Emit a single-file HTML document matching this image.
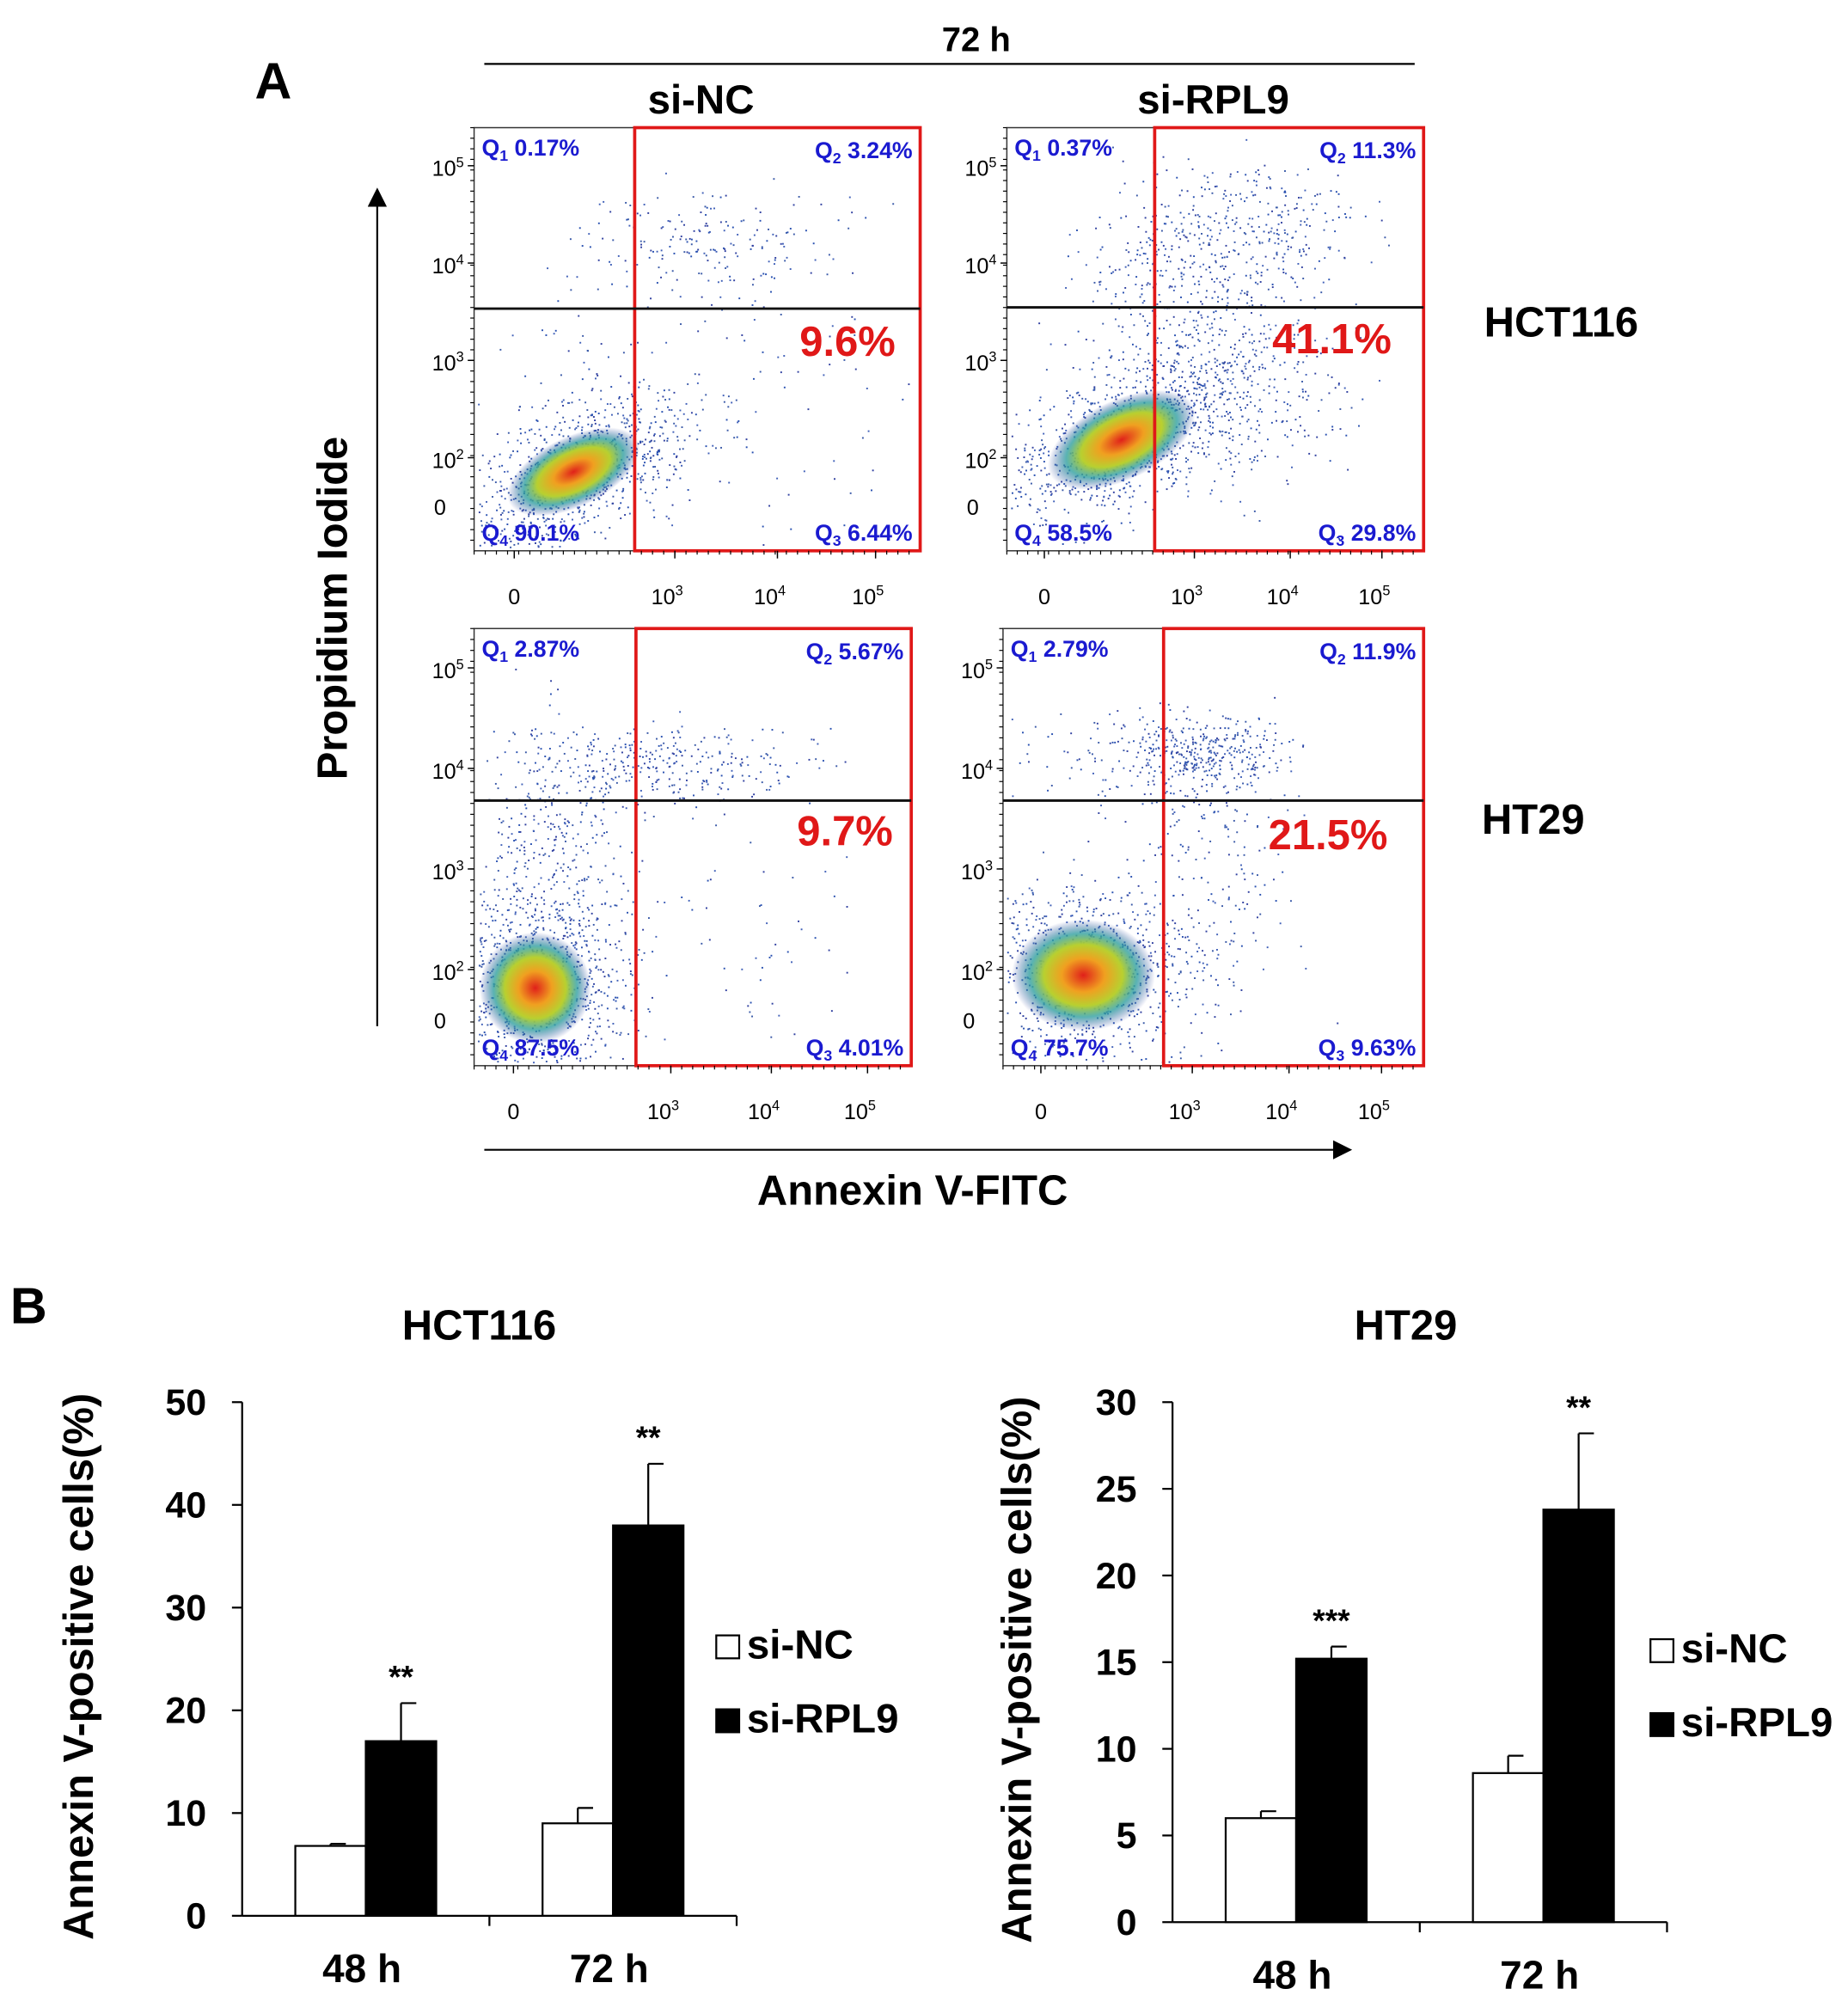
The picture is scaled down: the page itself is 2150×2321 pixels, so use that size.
<!DOCTYPE html>
<html><head><meta charset="utf-8"><style>
html,body{margin:0;padding:0;background:#fff}
svg{display:block}
text{font-family:"Liberation Sans",Arial,sans-serif}
</style></head><body>
<svg id="fig" width="2150" height="2321" viewBox="0 0 1450 1565" xmlns="http://www.w3.org/2000/svg">
<defs>
<radialGradient id="core" cx="50%" cy="50%" r="50%">
<stop offset="0%" stop-color="#e0201a"/><stop offset="30%" stop-color="#f0a020"/><stop offset="55%" stop-color="#b8d030"/><stop offset="75%" stop-color="#30a0a0" stop-opacity="0.8"/><stop offset="100%" stop-color="#3040a0" stop-opacity="0"/>
</radialGradient>
<marker id="arr" markerWidth="10" markerHeight="10" refX="8" refY="5" orient="auto"><path d="M0,0 L10,5 L0,10 z" fill="#000"/></marker>
</defs>
<text x="200" y="77" font-size="40" font-weight="bold">A</text>
<text x="766" y="40" font-size="27" font-weight="bold" text-anchor="middle">72 h</text>
<line x1="380" y1="50" x2="1110" y2="50" stroke="#000" stroke-width="1.5"/>
<text x="550" y="89" font-size="32" font-weight="bold" text-anchor="middle">si-NC</text>
<text x="952" y="89" font-size="32" font-weight="bold" text-anchor="middle">si-RPL9</text>
<text x="1225" y="264" font-size="33" font-weight="bold" text-anchor="middle">HCT116</text>
<text x="1203" y="654" font-size="33" font-weight="bold" text-anchor="middle">HT29</text>
<line x1="296" y1="805" x2="296" y2="150" stroke="#000" stroke-width="1.5" marker-end="url(#arr)"/>
<text transform="translate(272,477) rotate(-90)" font-size="33" font-weight="bold" text-anchor="middle">Propidium Iodide</text>
<line x1="380" y1="902" x2="1058" y2="902" stroke="#000" stroke-width="1.5" marker-end="url(#arr)"/>
<text x="716" y="945" font-size="33" font-weight="bold" text-anchor="middle">Annexin V-FITC</text>
<g id="flow"></g>

<text x="8" y="1038" font-size="40" font-weight="bold">B</text>
<g id="bars"></g>
</svg>
<script>
// ---------- Panel B data ----------
const timepoints = ["48 h","72 h"];
const hctNC = [6.8, 9.0];
const hctNCerr = [0.2, 1.5];
const hctRPL9 = [17.0, 38.0];
const hctRPL9err = [3.7, 6.0];
const hctStars = ["**","**"];
const hctTicks = [0,10,20,30,40,50];
const htNC = [6.0, 8.6];
const htNCerr = [0.4, 1.0];
const htRPL9 = [15.2, 23.8];
const htRPL9err = [0.7, 4.4];
const htStars = ["***","**"];
const htTicks = [0,5,10,15,20,25,30];

// ---------- Panel A data ----------
const quadLabels = [
 ["0.17%","3.24%","6.44%","90.1%","9.6%"],
 ["0.37%","11.3%","29.8%","58.5%","41.1%"],
 ["2.87%","5.67%","4.01%","87.5%","9.7%"],
 ["2.79%","11.9%","9.63%","75.7%","21.5%"]
];

const NS="http://www.w3.org/2000/svg";
function mk(tag,attrs,parent,txt){const e=document.createElementNS(NS,tag);for(const k in attrs)e.setAttribute(k,attrs[k]);if(txt!==undefined)e.textContent=txt;parent.appendChild(e);return e;}

const flow=document.getElementById('flow');
const plots=[
 {x0:372,x1:722,y0:100,y1:432,rx:498,hy:242,big:[665,268],clouds:[[450,370,45,22,-0.45,900],[560,190,50,22,0,180],[560,320,80,60,0,120],[470,300,40,50,0,80]]},
 {x0:790,x1:1117,y0:100,y1:432,rx:906,hy:241,big:[1045,266],clouds:[[880,345,50,25,-0.45,900],[965,190,50,30,0,450],[960,290,40,50,-0.8,500],[900,250,40,40,0,60]]},
 {x0:372,x1:715,y0:493,y1:836,rx:499,hy:628,big:[663,652],clouds:[[420,775,35,35,0,900],[430,680,30,60,0,400],[520,600,55,15,0,300],[560,740,60,60,0,80]]},
 {x0:787,x1:1117,y0:493,y1:836,rx:913,hy:628,big:[1042,655],clouds:[[850,765,45,35,0,900],[940,590,35,15,0,350],[950,690,35,55,0,200],[880,600,60,20,0,100]]}
];
let seed=7;function rnd(){seed=(seed*16807)%2147483647;return seed/2147483647;}
function gauss(){return (rnd()+rnd()+rnd()+rnd()-2)/0.58;}
plots.forEach((p,i)=>{
 const g=mk('g',{},flow);
 
 
 mk('rect',{x:p.x0,y:p.y0,width:p.x1-p.x0,height:p.y1-p.y0,fill:'#fff',stroke:'#333','stroke-width':1},g);
 const cols=['#3040a0','#2850b0','#3a5aa8','#4060b8'];
 p.clouds.forEach(c=>{for(let k=0;k<c[5];k++){let a=gauss()*c[2],b=gauss()*c[3];let x=c[0]+a*Math.cos(c[4])-b*Math.sin(c[4]),y=c[1]+a*Math.sin(c[4])+b*Math.cos(c[4]);if(x<p.x0+3||x>p.x1-3||y<p.y0+3||y>p.y1-3)continue;mk('rect',{x:x.toFixed(1),y:y.toFixed(1),width:1.3,height:1.3,fill:cols[k%4]},g);}});
 const c=p.clouds[0];
 mk('ellipse',{cx:c[0],cy:c[1],rx:c[2]*1.25,ry:c[3]*1.25,fill:'url(#core)',transform:`rotate(${c[4]*57.3} ${c[0]} ${c[1]})`},g);
 mk('rect',{x:p.rx,y:p.y0,width:p.x1-p.rx,height:p.y1-p.y0,fill:'none',stroke:'#e01818','stroke-width':2.5},g);
 mk('line',{x1:p.x0,y1:p.hy,x2:p.x1,y2:p.hy,stroke:'#111','stroke-width':2},g);
 const L=quadLabels[i];
 const q=(x,y,n,v,anchor)=>{const t=mk('text',{x:x,y:y,'font-size':18,'font-weight':'bold',fill:'#1a1ad0','text-anchor':anchor},g);t.innerHTML=`Q<tspan font-size="12" dy="4">${n}</tspan><tspan dy="-4"> ${v}</tspan>`;};
 q(p.x0+6,p.y0+22,1,L[0],'start');q(p.x1-6,p.y0+24,2,L[1],'end');q(p.x1-6,p.y1-8,3,L[2],'end');q(p.x0+6,p.y1-8,4,L[3],'start');
 const big=mk('text',{x:p.big[0],y:p.big[1]+11,'font-size':33,'font-weight':'bold',fill:'#e01818','text-anchor':'middle'},g,L[4]);
 
 
 const h=p.y1-p.y0;const ys=[[0.09,'5'],[0.32,'4'],[0.55,'3'],[0.78,'2']];
 ys.forEach(([f,e])=>{const t=mk('text',{x:p.x0-8,y:p.y0+h*f+8,'font-size':17,'text-anchor':'end'},g);t.innerHTML=`10<tspan font-size="11" dy="-7">${e}</tspan>`;mk('line',{x1:p.x0-5,y1:p.y0+h*f,x2:p.x0,y2:p.y0+h*f,stroke:'#000'},g);});
 mk('text',{x:p.x0-22,y:p.y0+h*0.9+5,'font-size':17,'text-anchor':'end'},g,'0');
 const w=p.x1-p.x0;const xs=[[0.09,null],[0.45,'3'],[0.68,'4'],[0.9,'5']];
 xs.forEach(([f,e])=>{const x=p.x0+w*f;if(e){const t=mk('text',{x:x-6,y:p.y1+42,'font-size':17,'text-anchor':'middle'},g);t.innerHTML=`10<tspan font-size="11" dy="-7">${e}</tspan>`;}else mk('text',{x:x,y:p.y1+42,'font-size':17,'text-anchor':'middle'},g,'0');mk('line',{x1:x,y1:p.y1,x2:x,y2:p.y1+6,stroke:'#000'},g);});
 for(let k=0;k<40;k++){const x=p.x0+k*w/40;mk('line',{x1:x,y1:p.y1,x2:x,y2:p.y1+3,stroke:'#000','stroke-width':0.8},g);}
 for(let k=0;k<40;k++){const y=p.y0+k*h/40;mk('line',{x1:p.x0-3,y1:y,x2:p.x0,y2:y,stroke:'#000','stroke-width':0.8},g);}
});

const bars=document.getElementById('bars');
function barChart(o){
 const g=mk('g',{},bars);
 
 
 const ymax=o.ticks[o.ticks.length-1];
 const Y=v=>o.yb-(o.yb-o.yt)*v/ymax;
 mk('text',{x:o.title[0],y:o.title[1],'font-size':33,'font-weight':'bold','text-anchor':'middle'},g,o.titleText);
 mk('line',{x1:o.ax,y1:o.yt,x2:o.ax,y2:o.yb,stroke:'#000','stroke-width':1.5},g);
 mk('line',{x1:o.ax,y1:o.yb,x2:o.axEnd,y2:o.yb,stroke:'#000','stroke-width':1.5},g);
 o.ticks.forEach(t=>{mk('line',{x1:o.ax-8,y1:Y(t),x2:o.ax,y2:Y(t),stroke:'#000','stroke-width':1.5},g);
  const tl=mk('text',{x:o.ax-28,y:Y(t)+10,'font-size':29,'font-weight':'bold','text-anchor':'end'},g,t);
  
  });
 const gw=(o.axEnd-o.ax)/timepoints.length, bw=gw*0.285;
 mk('line',{x1:o.ax+gw,y1:o.yb,x2:o.ax+gw,y2:o.yb+8,stroke:'#000','stroke-width':1.5},g);
 mk('line',{x1:o.axEnd,y1:o.yb,x2:o.axEnd,y2:o.yb+8,stroke:'#000','stroke-width':1.5},g);
 timepoints.forEach((tp,i)=>{
  const cx=o.ax+gw*(i+0.5);
  const xl=mk('text',{x:cx-3,y:o.yb+52,'font-size':31,'font-weight':'bold','text-anchor':'middle'},g,tp);
  
  
  [[o.nc,o.ncErr,'#fff',cx-bw],[o.rp,o.rpErr,'#000',cx]].forEach(([vals,errs,fill,x])=>{
   const v=vals[i],e=errs[i];
   mk('line',{x1:x+bw/2,y1:Y(v),x2:x+bw/2,y2:Y(v+e),stroke:'#000','stroke-width':1.5},g);
   mk('line',{x1:x+bw/2,y1:Y(v+e),x2:x+bw/2+12,y2:Y(v+e),stroke:'#000','stroke-width':1.5},g);
   const r=mk('rect',{x:x,y:Y(v),width:bw,height:Y(0)-Y(v),fill:fill,stroke:'#000','stroke-width':1.5},g);
   
   
  });
  const st=mk('text',{x:cx+bw/2,y:Y(o.rp[i]+o.rpErr[i])-12,'font-size':25,'font-weight':'bold','text-anchor':'middle'},g,o.stars[i]);
  
  
 });
 const yt=mk('text',{transform:`translate(${o.ylx},${(o.yt+o.yb)/2+6}) rotate(-90)`,'font-size':33,'font-weight':'bold','text-anchor':'middle'},g,'Annexin V-positive cells(%)');
 
 
 [['si-NC','#fff',0],['si-RPL9','#000',58]].forEach(([lab,f,dy])=>{
  const lg=mk('g',{},g);
  
  
  mk('rect',{x:o.lx,y:o.ly+dy-18,width:18,height:18,fill:f,stroke:'#000','stroke-width':1.5},lg);
  mk('text',{x:o.lx+24,y:o.ly+dy,'font-size':32,'font-weight':'bold'},lg,lab);
 });
}
barChart({name:'hct116-bar-chart',titleText:'HCT116',title:[376,1051],ax:190,axEnd:578,yt:1100,yb:1503,ticks:hctTicks,nc:hctNC,ncErr:hctNCerr,rp:hctRPL9,rpErr:hctRPL9err,stars:hctStars,ylx:73,lx:562,ly:1301},);
barChart({name:'ht29-bar-chart',titleText:'HT29',title:[1103,1051],ax:920,axEnd:1308,yt:1100,yb:1508,ticks:htTicks,nc:htNC,ncErr:htNCerr,rp:htRPL9,rpErr:htRPL9err,stars:htStars,ylx:809,lx:1295,ly:1304});
</script>
</body></html>
